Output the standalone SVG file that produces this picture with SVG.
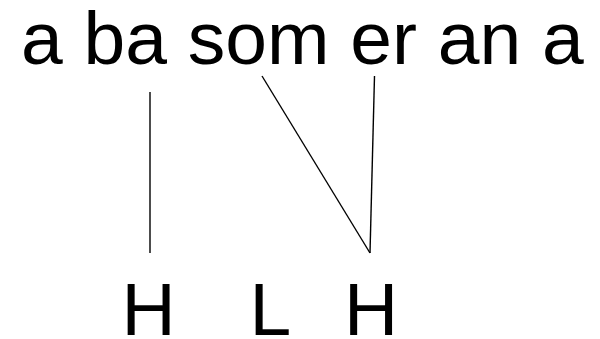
<svg xmlns="http://www.w3.org/2000/svg" width="600" height="339" viewBox="0 0 600 339">
<style>
  text { font-family: "Liberation Sans", Arial, sans-serif; font-size: 75px; fill: #000; }
  .link { stroke: #000; stroke-width: 1.4; fill: none; }
</style>
<rect width="600" height="339" fill="#fff"/>
<g id="syllables">
  <text x="21" y="64">a ba som er an a</text>
</g>
<g id="tone-H1"><text x="121.4" y="335">H</text></g>
<g id="tone-L"><text x="249.5" y="335">L</text></g>
<g id="tone-H2"><text x="344" y="335">H</text></g>
<g id="connectors">
  <line class="link" x1="150" y1="92" x2="150" y2="253"/>
  <line class="link" x1="262" y1="76" x2="370" y2="253"/>
  <line class="link" x1="374.5" y1="76" x2="370" y2="253"/>
</g>
</svg>
